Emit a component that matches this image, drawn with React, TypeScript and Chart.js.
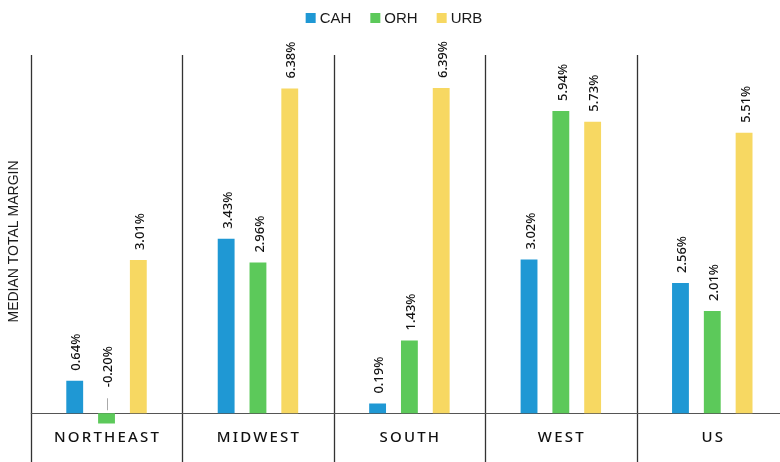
import React, { useEffect, useRef } from "react";
import { Chart, registerables } from "chart.js";

Chart.register(...registerables);

// Regional median total margin (%), by hospital type
const categories = ["NORTHEAST", "MIDWEST", "SOUTH", "WEST", "US"];
const seriesNames = ["CAH", "ORH", "URB"];
const cahValues = [0.64, 3.43, 0.19, 3.02, 2.56];
const orhValues = [-0.2, 2.96, 1.43, 5.94, 2.01];
const urbValues = [3.01, 6.38, 6.39, 5.73, 5.51];
const seriesColors = ["#1f98d4", "#5cc95a", "#f7d862"];

const yMin = -0.25;
const yMax = 7;

const fmt = (v: number) => `${v.toFixed(2)}%`;

// Legend row drawn centred above the panels
const legendPlugin = {
  id: "legendRow",
  afterDraw(chart: any) {
    const { ctx } = chart;
    const items = chart.data.datasets.map((d: any) => ({ label: d.label, color: d.backgroundColor }));
    ctx.save();
    ctx.font = '15px "Liberation Sans"';
    ctx.textBaseline = "middle";
    ctx.textAlign = "left";
    const box = 10;
    const gap = 4;
    const spacing = 19;
    const widths = items.map((it: any) => box + gap + ctx.measureText(it.label).width);
    const total = widths.reduce((a: number, b: number) => a + b, 0) + spacing * (items.length - 1);
    let cx = 394 - total / 2;
    const cy = 18;
    items.forEach((it: any, i: number) => {
      ctx.fillStyle = it.color;
      ctx.fillRect(cx, cy - box / 2, box, box);
      ctx.fillStyle = "#1a1a1a";
      ctx.fillText(it.label, cx + box + gap, cy + 1);
      cx += widths[i] + spacing;
    });
    ctx.restore();
  },
};

// Vertical dividers between regions, zero line, rotated value labels and spaced region names
const panelPlugin = {
  id: "panelDecor",
  beforeDatasetsDraw(chart: any) {
    const { ctx, scales, chartArea } = chart;
    const x = scales.x;
    const y = scales.y;
    const step = x.getPixelForValue(1) - x.getPixelForValue(0);
    ctx.save();
    ctx.strokeStyle = "#333";
    ctx.lineWidth = 1.3;
    for (let i = 0; i < categories.length; i++) {
      const bx = Math.round(x.getPixelForValue(i) - step / 2) + 0.5;
      ctx.beginPath();
      ctx.moveTo(bx, 55);
      ctx.lineTo(bx, chart.height);
      ctx.stroke();
    }
    const zy = Math.round(y.getPixelForValue(0)) + 0.5;
    ctx.strokeStyle = "#555";
    ctx.lineWidth = 1.2;
    ctx.beginPath();
    ctx.moveTo(chartArea.left, zy);
    ctx.lineTo(chart.width, zy);
    ctx.stroke();
    ctx.restore();
  },
  afterDatasetsDraw(chart: any) {
    const { ctx, scales } = chart;
    const x = scales.x;
    const y = scales.y;
    const zy = y.getPixelForValue(0);
    ctx.save();
    ctx.fillStyle = "#111";
    ctx.font = '500 13px "Noto Sans"';
    ctx.textBaseline = "middle";
    ctx.textAlign = "left";
    chart.data.datasets.forEach((ds: any, di: number) => {
      const meta = chart.getDatasetMeta(di);
      meta.data.forEach((bar: any, i: number) => {
        const v = ds.data[i];
        let anchorY: number;
        if (v >= 0) {
          anchorY = bar.y - 10;
        } else {
          anchorY = zy - 26;
          ctx.save();
          ctx.strokeStyle = "#aaa";
          ctx.lineWidth = 1;
          ctx.beginPath();
          ctx.moveTo(Math.round(bar.x) + 0.5, zy - 3);
          ctx.lineTo(Math.round(bar.x) + 0.5, zy - 15);
          ctx.stroke();
          ctx.restore();
        }
        ctx.save();
        ctx.translate(bar.x + 2, anchorY);
        ctx.rotate(-Math.PI / 2);
        ctx.fillText(fmt(v), 0, 0);
        ctx.restore();
      });
    });
    // region names under the zero line
    ctx.fillStyle = "#111";
    ctx.font = '500 15px "Noto Sans"';
    ctx.textAlign = "center";
    (ctx as any).letterSpacing = "2.2px";
    categories.forEach((c, i) => {
      ctx.fillText(c, x.getPixelForValue(i) + 1, 438);
    });
    ctx.restore();
  },
};

export default function App() {
  const canvasRef = useRef<HTMLCanvasElement | null>(null);

  useEffect(() => {
    if (!canvasRef.current) return;
    const values = [cahValues, orhValues, urbValues];
    const chart = new Chart(canvasRef.current, {
      type: "bar",
      data: {
        labels: categories,
        datasets: seriesNames.map((name, i) => ({
          label: name,
          data: values[i],
          backgroundColor: seriesColors[i],
          borderWidth: 0,
          categoryPercentage: 0.63,
          barPercentage: 0.53,
        })),
      },
      options: {
        animation: false,
        responsive: true,
        maintainAspectRatio: false,
        layout: { padding: { top: 57, left: 5, right: 0, bottom: 36 } },
        plugins: {
          legend: { display: false },
          tooltip: { enabled: false },
        },
        scales: {
          x: {
            display: false,
          },
          y: {
            min: yMin,
            max: yMax,
            grid: { display: false },
            border: { display: false },
            ticks: { display: false },
            title: {
              display: true,
              text: "MEDIAN TOTAL MARGIN",
              color: "#1a1a1a",
              font: { family: "Liberation Sans", size: 14 },
              padding: { top: 1, bottom: 0 },
            },
          },
        },
      },
      plugins: [panelPlugin, legendPlugin],
    });
    return () => chart.destroy();
  }, []);

  return (
    <div
      style={{
        position: "fixed",
        left: 0,
        top: 0,
        width: 780,
        height: 462,
        overflow: "hidden",
        background: "#fff",
      }}
    >
      <div style={{ position: "relative", width: 788, height: 462 }}>
        <canvas ref={canvasRef} />
      </div>
    </div>
  );
}
